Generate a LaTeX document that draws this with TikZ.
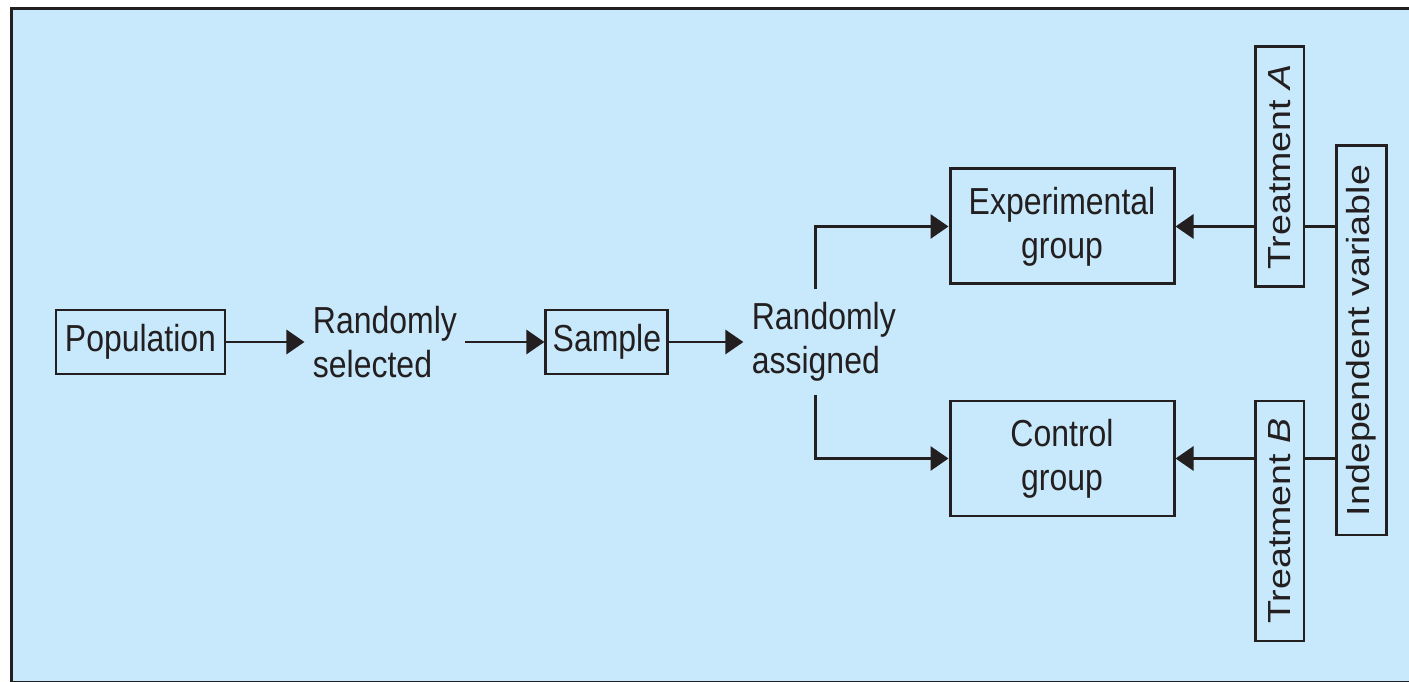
\documentclass[tikz,border=0pt]{standalone}
\usepackage{fontspec}
\setmainfont{Liberation Sans}[FakeStretch=0.85]
\newfontfamily\upfont{Liberation Sans}
\usepackage{tikz}
\usetikzlibrary{arrows.meta,positioning}
\definecolor{bgblue}{RGB}{200,233,251}
\definecolor{ink}{RGB}{35,31,32}
\tikzset{%
  >={Triangle[width=2.4mm,length=1.8mm]},
  % Specifications for style of nodes:
        base/.style = {rectangle, draw=ink, line width=0.85pt, inner sep=0pt,
                       align=center},
         box/.style = {base},
     boxwide/.style = {base, minimum width=2.24cm, minimum height=1.15cm},
    freetext/.style = {inner sep=0.07cm, align=left},
     vertbox/.style = {base, rotate=90, yscale=0.85,
                       font=\upfont\fontsize{10.7}{12.5}\selectfont}
}

\begin{document}
\begin{tikzpicture}[node distance=0.8cm, color=ink, line width=0.85pt,
    every node/.style={font=\fontsize{10.7}{12.5}\selectfont}]
  \useasboundingbox (0,0) rectangle (14.09,-6.82);
  % background and frame
  \fill[bgblue] (0.115,-0.085) rectangle (14.09,-6.82);
  \draw[line width=0.03cm] (14.09,-0.085) -- (0.115,-0.085) -- (0.115,-6.82) -- (14.09,-6.82);

  % Specification of nodes (position, etc.)
  \node (pop)  [box, minimum width=1.69cm, minimum height=0.64cm] at (1.405,-3.42) {Population};
  \node (sel)  [freetext, right=0.78cm of pop]                    {Randomly\\selected};
  \node (samp) [box, right=0.79cm of sel, minimum width=1.22cm, minimum height=0.64cm] {Sample};
  \node (asg)  [freetext, right=0.74cm of samp]                   {Randomly\\assigned};

  \node (exp)  [boxwide] at (10.62,-2.265) {Experimental\\group};
  \node (ctl)  [boxwide] at (10.62,-4.585) {Control\\group};

  \node (ta)   [vertbox, minimum width=2.40cm, minimum height=0.576cm] at (12.795,-1.67) {Treatment \textit{A}};
  \node (tb)   [vertbox, minimum width=2.40cm, minimum height=0.576cm] at (12.795,-5.21) {Treatment \textit{B}};
  \node (iv)   [vertbox, minimum width=3.89cm, minimum height=0.588cm] at (13.61,-3.405) {Independent variable};

  \draw[->] (pop) -- (sel);
  \draw[->] (sel) -- (samp);
  \draw[->] (samp) -- (asg);

  \draw[->] ([xshift=-0.08cm, yshift=0.05cm]asg.north) |- (exp.west);
  \draw[->] ([xshift=-0.08cm, yshift=-0.05cm]asg.south) |- (ctl.west);

  \draw[->] (ta.north |- exp.east) -- (exp.east);
  \draw (iv.north |- exp.east) -- (ta.south |- exp.east);
  \draw[->] (tb.north |- ctl.east) -- (ctl.east);
  \draw (iv.north |- ctl.east) -- (tb.south |- ctl.east);
\end{tikzpicture}
\end{document}
